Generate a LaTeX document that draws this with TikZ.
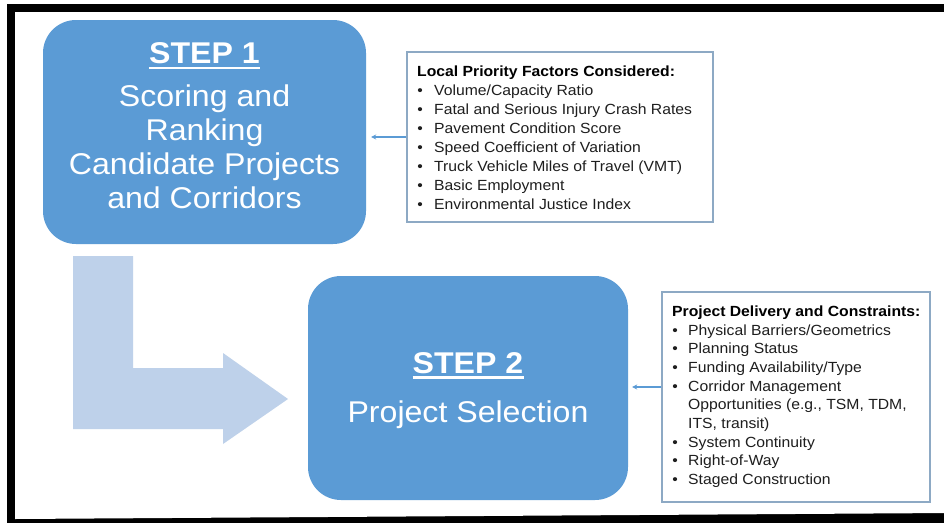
\documentclass[tikz,border=0pt]{standalone}
\usepackage{fontspec}
\setmainfont[FakeStretch=1.07]{Liberation Sans}
\usetikzlibrary{arrows.meta}
\definecolor{stepblue}{HTML}{5B9BD5}
\definecolor{lblue}{HTML}{BED1EA}
\definecolor{infoborder}{HTML}{8DA9C4}
\definecolor{txtgray}{HTML}{1E1E1E}
\begin{document}
\begin{tikzpicture}[x=1pt,y=-1pt,
  stepbox/.style={draw=none, fill=stepblue, rounded corners=33pt, inner sep=0pt},
  bigtxt/.style={text=white, font=\fontsize{30}{34}\selectfont, inner sep=0pt, anchor=base},
  bigbold/.style={text=white, font=\fontsize{30}{34}\selectfont\bfseries, inner sep=0pt, anchor=base},
  infobox/.style={draw=infoborder, line width=1.3pt, fill=white, inner sep=0pt},
  infohead/.style={font=\fontsize{14.7}{18}\selectfont\bfseries, text=black, inner sep=0pt, anchor=base west},
  infoitem/.style={font=\fontsize{14.7}{18}\selectfont, text=txtgray, inner sep=0pt, anchor=base west},
  bul/.style={font=\fontsize{14.7}{18}\selectfont, text=txtgray, inner sep=0pt, anchor=base},
  feed/.style={draw=stepblue, line width=1.1pt, -{Stealth[length=5pt,width=5pt]}},
  ulline/.style={draw=white, line width=2.2pt}
]
\useasboundingbox (0,0) rectangle (944,522);
\fill[white] (0,0) rectangle (944,522);
% frame
\fill[black] (7,4) rectangle (950,530);
\fill[white] (15,12) -- (950,12) -- (950,513) -- (15,519) -- cycle;

% L-shaped arrow
\fill[lblue] (73,256) -- (133,256) -- (133,368) -- (223,368) -- (223,353) -- (288,399)
  -- (223,444) -- (223,429) -- (73,429) -- cycle;

% Step 1
\node[stepbox, minimum width=323pt, minimum height=224pt] (s1) at (204.5,132) {};
\node[bigbold] (s1h) at (204.5,63) {STEP 1};
\draw[ulline] ([yshift=-5pt]s1h.base west) -- ([yshift=-5pt]s1h.base east);
\foreach \t/\y/\n in {Scoring and/106/a, Ranking/140/b, Candidate Projects/174/c, and Corridors/208/d}
  \node[bigtxt] (s1\n) at (204.5,\y) {\t};

% Step 2
\node[stepbox, minimum width=320pt, minimum height=224pt] (s2) at (468,388) {};
\node[bigbold] (s2h) at (468,373) {STEP 2};
\draw[ulline] ([yshift=-4.5pt]s2h.base west) -- ([yshift=-4.5pt]s2h.base east);
\node[bigtxt] (s2t) at (468,422) {Project Selection};

% Info box 1
\node[infobox, minimum width=306pt, minimum height=170pt] (i1) at (560,137) {};
\node[infohead] (i1h) at (417,76) {Local Priority Factors Considered:};
\foreach \t/\y/\n in {{Volume/Capacity Ratio}/95/a, {Fatal and Serious Injury Crash Rates}/114/b,
  {Pavement Condition Score}/133/c, {Speed Coefficient of Variation}/152/d,
  {Truck Vehicle Miles of Travel (VMT)}/171/e, {Basic Employment}/190/f,
  {Environmental Justice Index}/209/g}{
  \node[bul] (i1b\n) at (420,\y) {\textbullet};
  \node[infoitem] (i1t\n) at (434,\y) {\t};
}
\draw[feed, shorten >=5pt] (i1.west) -- (i1.west -| s1.east);

% Info box 2
\node[infobox, minimum width=268pt, minimum height=210pt] (i2) at (796,397) {};
\node[infohead] (i2h) at (672,316) {Project Delivery and Constraints:};
\foreach \y/\n in {335/a, 353.7/b, 372.4/c, 391.1/d, 447.2/e, 465.9/f, 484.6/g}
  \node[bul] (i2b\n) at (675,\y) {\textbullet};
\node[infoitem] (i2ta) at (688,335) {Physical Barriers/Geometrics};
\node[infoitem] (i2tb) at (688,353.7) {Planning Status};
\node[infoitem] (i2tc) at (688,372.4) {Funding Availability/Type};
\node[infoitem] (i2td) at (688,391.1) {Corridor Management};
\node[infoitem] (i2td2) at (688,409.8) {Opportunities (e.g., TSM, TDM,};
\node[infoitem] (i2td3) at (688,428.5) {ITS, transit)};
\node[infoitem] (i2te) at (688,447.2) {System Continuity};
\node[infoitem] (i2tf) at (688,465.9) {Right-of-Way};
\node[infoitem] (i2tg) at (688,484.6) {Staged Construction};
\draw[feed, shorten >=4pt] ([yshift=10pt]i2.west) -- ([yshift=10pt]i2.west -| s2.east);
\end{tikzpicture}
\end{document}
